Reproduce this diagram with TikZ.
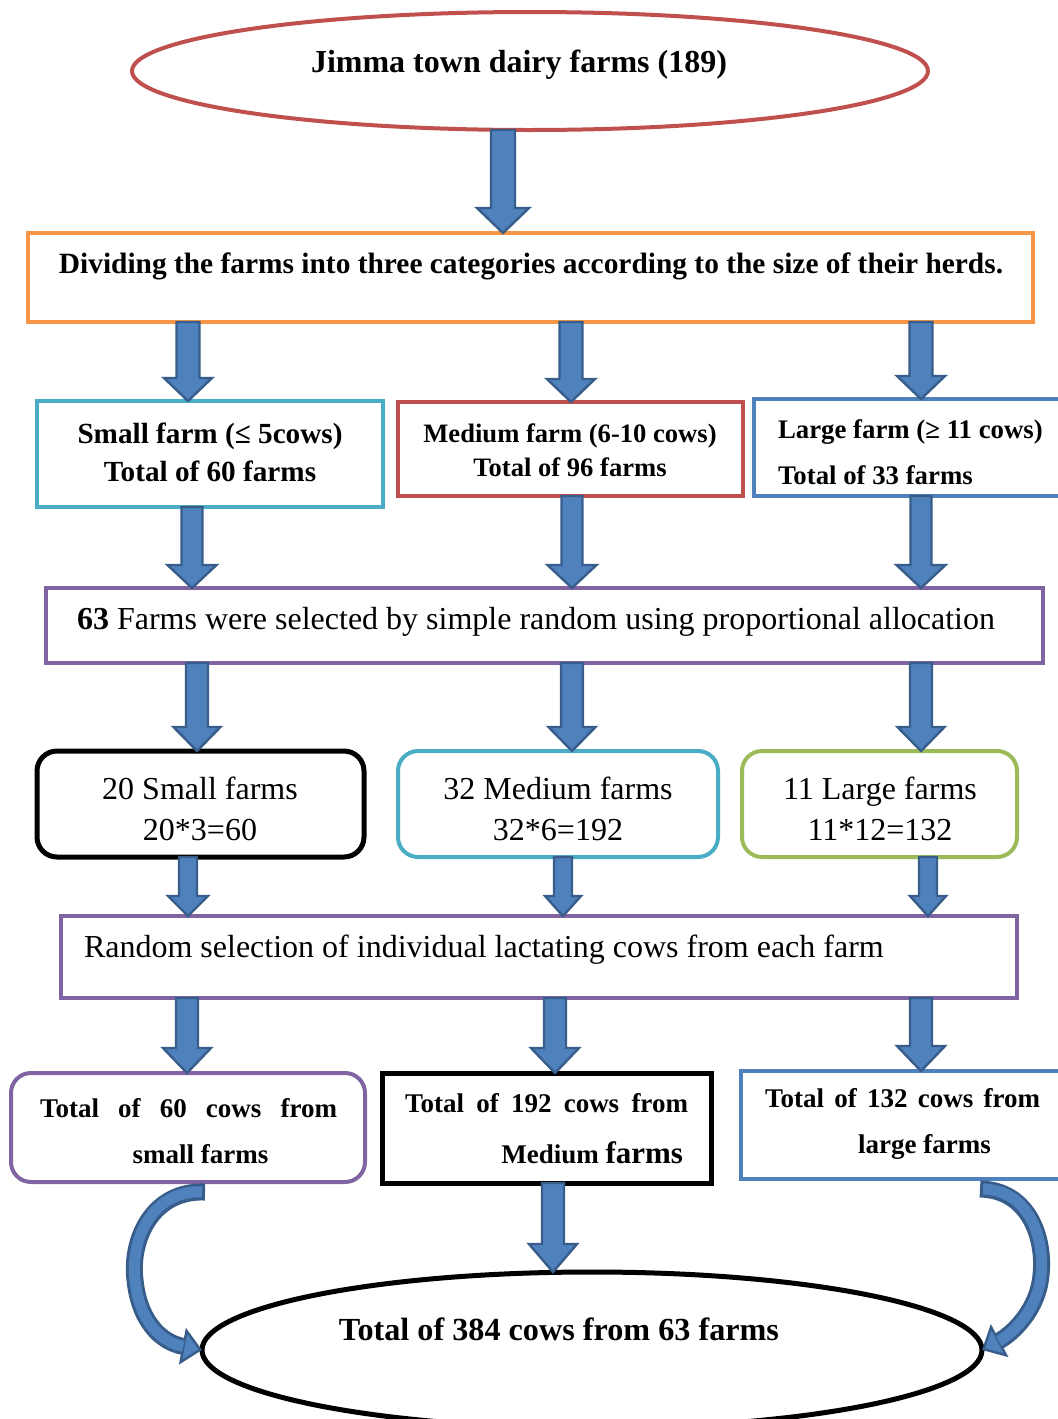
\documentclass[tikz,border=0pt]{standalone}
\usepackage{fontspec}
\setmainfont{Liberation Serif}
\usetikzlibrary{shapes.geometric,arrows.meta,calc}
\newcommand{\pxu}{0.5pt}
\definecolor{cred}{HTML}{C0504D}
\definecolor{corange}{HTML}{F79646}
\definecolor{ccyan}{HTML}{4BACC6}
\definecolor{cblue}{HTML}{4F81BD}
\definecolor{cpurple}{HTML}{8064A2}
\definecolor{cgreen}{HTML}{9BBB59}
\definecolor{arrfill}{HTML}{4F81BD}
\definecolor{arrdraw}{HTML}{385D8A}
\begin{document}
\begin{tikzpicture}[x=0.5pt,y=-0.5pt,
  box/.style={draw, line width=2pt, anchor=north west, inner sep=0pt, outer sep=0pt},
  rbox/.style={box, rounded corners=10pt},
  oval/.style={ellipse, draw, inner sep=0pt, outer sep=0pt},
  txt/.style={inner sep=0pt, outer sep=0pt},
  barrow/.style n args={3}{draw=arrdraw, fill=arrfill, line width=1.2pt,
    to path={let \p1=(\tikztostart), \p2=(\tikztotarget) in
      (\x1-#1,\y1) -- (\x1-#1,\y2+#3) -- (\x1-#2,\y2+#3) -- (\x1,\y2)
      -- (\x1+#2,\y2+#3) -- (\x1+#1,\y2+#3) -- (\x1+#1,\y1) -- cycle}},
  cout/.style={draw=arrdraw, line width=8.5pt,
    -{Triangle[length=10pt,width=18.5pt,line width=1.2pt,fill=arrfill,color=arrdraw]}},
  cin/.style={draw=arrfill, line width=5.5pt, shorten >=9.5pt, shorten <=1.5pt},
]
\useasboundingbox (0,0) rectangle (1057,1419);

% ---------- shapes ----------
\node[oval, draw=cred, line width=2pt, minimum width=796*\pxu, minimum height=118*\pxu] (top) at (530,71) {};
\node[box, draw=corange, minimum width=1005*\pxu, minimum height=89*\pxu] (div) at (28,233) {};

\node[box, draw=ccyan, minimum width=346*\pxu, minimum height=106*\pxu] (s2) at (37,401) {};
\node[box, draw=cred, minimum width=345*\pxu, minimum height=94*\pxu] (m2) at (398,402) {};
\node[box, draw=cblue, minimum width=310*\pxu, minimum height=97*\pxu] (l2) at (754,399) {};

\node[box, draw=cpurple, minimum width=997*\pxu, minimum height=75*\pxu] (sel) at (46,588) {};

\node[rbox, draw=black, line width=2.5pt, minimum width=327*\pxu, minimum height=106*\pxu] (s3) at (37,751) {};
\node[rbox, draw=ccyan, minimum width=320*\pxu, minimum height=106*\pxu] (m3) at (398,751) {};
\node[rbox, draw=cgreen, minimum width=275*\pxu, minimum height=106*\pxu] (l3) at (742,751) {};

\node[box, draw=cpurple, minimum width=956*\pxu, minimum height=82*\pxu] (rand) at (61,916) {};

\node[rbox, draw=cpurple, minimum width=354*\pxu, minimum height=109*\pxu] (s4) at (11,1073) {};
\node[box, draw=black, line width=2.5pt, minimum width=329*\pxu, minimum height=110*\pxu] (m4) at (382,1073) {};
\node[box, draw=cblue, minimum width=321*\pxu, minimum height=108*\pxu] (l4) at (741,1071) {};

\node[oval, draw=black, line width=2.5pt, minimum width=780*\pxu, minimum height=156*\pxu] (fin) at (592,1350) {};

% ---------- texts ----------
\node[txt, font=\fontsize{16}{19}\selectfont\bfseries] (ttop) at (519,65) {Jimma town dairy farms (189)};
\node[txt, font=\fontsize{14.7}{17}\selectfont\bfseries] (tdiv) at (531,266) {Dividing the farms into three categories according to the size of their herds.};

\node[txt, align=center, font=\fontsize{14.6}{19}\selectfont\bfseries] (ts2) at (210,452) {Small farm (≤ 5cows)\\Total of 60 farms};
\node[txt, align=center, font=\fontsize{13.3}{17}\selectfont\bfseries] (tm2) at (570,450) {Medium farm (6-10 cows)\\Total of 96 farms};
\node[txt, align=left, anchor=west, font=\fontsize{13.4}{23}\selectfont\bfseries] (tl2) at (778,452) {Large farm (≥ 11 cows)\\Total of 33 farms};

\node[txt, anchor=west, font=\fontsize{16}{19}\selectfont] (tsel) at (77,622) {\textbf{63} Farms were selected by simple random using proportional allocation};

\node[txt, align=center, font=\fontsize{16}{20.5}\selectfont] (ts3) at (200,809) {20 Small farms\\20*3=60};
\node[txt, align=center, font=\fontsize{16}{20.5}\selectfont] (tm3) at (558,809) {32 Medium farms\\32*6=192};
\node[txt, align=center, font=\fontsize{16}{20.5}\selectfont] (tl3) at (880,809) {11 Large farms\\11*12=132};

\node[txt, anchor=west, font=\fontsize{16}{19}\selectfont] (trand) at (84,950) {Random selection of individual lactating cows from each farm};

\node[txt, align=center, font=\fontsize{13.5}{23}\selectfont\bfseries] (ts4) at (188.5,1131) {\makebox[148.5pt][s]{Total of 60 cows from}\\\hspace*{12pt}small farms};
\node[txt, align=left, font=\fontsize{13.5}{25.5}\selectfont\bfseries] (tm4) at (546.5,1129) {\makebox[141.5pt][s]{Total of 192 cows from}\\\makebox[139pt][r]{Medium {\fontsize{15.5}{18}\selectfont farms}}};
\node[txt, align=center, font=\fontsize{13.5}{23}\selectfont\bfseries] (tl4) at (902.5,1124) {\makebox[137.5pt][s]{Total of 132 cows from}\\\hspace*{22pt}large farms};

\node[txt, font=\fontsize{16.1}{19}\selectfont\bfseries] (tfin) at (559,1329) {Total of 384 cows from 63 farms};

% ---------- straight block arrows ----------
\path[barrow={6pt}{13pt}{12.5pt}] (top.south -| 503,0) to (div.north -| 503,0);

\path[barrow={5.75pt}{12pt}{11.5pt}] (div.south -| 188,0) to (s2.north -| 188,0);
\path[barrow={5.75pt}{12pt}{11.5pt}] (div.south -| 571,0) to (m2.north -| 571,0);
\path[barrow={5.75pt}{12pt}{11.5pt}] (div.south -| 921,0) to (l2.north -| 921,0);

\path[barrow={5.25pt}{12.25pt}{11.5pt}] (s2.south -| 192,0) to (sel.north -| 192,0);
\path[barrow={5.25pt}{12.25pt}{11.5pt}] (m2.south -| 572,0) to (sel.north -| 572,0);
\path[barrow={5.25pt}{12.25pt}{11.5pt}] (l2.south -| 921,0) to (sel.north -| 921,0);

\path[barrow={5.5pt}{11.75pt}{12pt}] (sel.south -| 197,0) to (s3.north -| 197,0);
\path[barrow={5.5pt}{11.75pt}{12pt}] (sel.south -| 572,0) to (m3.north -| 572,0);
\path[barrow={5.5pt}{11.75pt}{12pt}] (sel.south -| 921,0) to (l3.north -| 921,0);

\path[barrow={4.5pt}{10pt}{10pt}] (s3.south -| 188,0) to (rand.north -| 188,0);
\path[barrow={4.5pt}{9pt}{10pt}] (m3.south -| 563,0) to (rand.north -| 563,0);
\path[barrow={4.5pt}{9pt}{10pt}] (l3.south -| 928,0) to (rand.north -| 928,0);

\path[barrow={5.5pt}{12pt}{12.5pt}] (rand.south -| 187,0) to (s4.north -| 187,0);
\path[barrow={5.5pt}{12pt}{12.5pt}] (rand.south -| 555,0) to (m4.north -| 555,0);
\path[barrow={5.5pt}{12pt}{12.5pt}] (rand.south -| 921,0) to (l4.north -| 921,0);

\path[barrow={5.5pt}{12pt}{14pt}] (m4.south -| 553,0) to (fin.north -| 553,0);

% ---------- curved block arrows ----------
\coordinate (ltail) at (205,1192);
\coordinate (rtail) at (980,1189);
\draw[cout] (ltail) .. controls (152,1190) and (130,1240) .. (135,1280) .. controls (139,1320) and (160,1342) .. (fin.west);
\draw[cin]  (ltail) .. controls (152,1190) and (130,1240) .. (135,1280) .. controls (139,1320) and (160,1342) .. (fin.west);
\draw[cout] (rtail) .. controls (1030,1190) and (1045,1240) .. (1041,1275) .. controls (1038,1310) and (1012,1334) .. (fin.east);
\draw[cin]  (rtail) .. controls (1030,1190) and (1045,1240) .. (1041,1275) .. controls (1038,1310) and (1012,1334) .. (fin.east);
\end{tikzpicture}
\end{document}
